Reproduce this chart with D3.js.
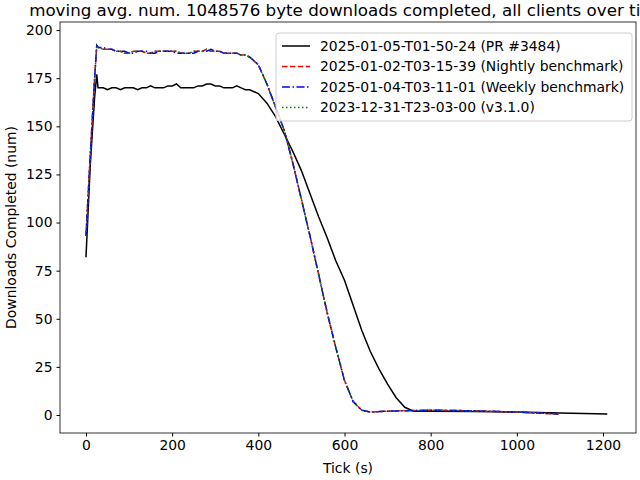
<!DOCTYPE html>
<html>
<head>
<meta charset="utf-8">
<script src="https://cdn.jsdelivr.net/npm/d3@7"></script>
<style>
  body { margin: 0; background: #fff; }
  text { font-family: "DejaVu Sans", sans-serif; }
</style>
</head>
<body>
<div class="chart"></div>
<script>
// Data.
const plateauTicks = d3.range(30, 390, 10);

const prStart = [[0, 82], [10, 130], [20, 165], [25, 177], [28, 170]];
const prPlateau = [170,170,169,170,170,169,170,170,170,169,170,170,171,170,170,170,171,171,172,170,
                   170,170,170,171,171,172,172,171,171,170,170,170,171,170,169,169];
const prTail = [[400, 167], [420, 162], [440, 155], [460, 146], [480, 137], [500, 127], [520, 115],
                [540, 103], [560, 92], [580, 80], [600, 70], [620, 57], [640, 44], [660, 33], [680, 24],
                [700, 16], [720, 9], [740, 4], [760, 2], [800, 2], [900, 1.8], [1000, 1.5], [1100, 1], [1210, 0.5]];

const nightlyStart = [[0, 93], [10, 135], [20, 175], [25, 192], [28, 191]];
const nightlyPlateau = [191,190,190,190,189,189,188,188,189,189,189,188,188,189,189,189,189,189,189,188,
                        188,188,189,189,189,190,189,189,189,188,188,188,188,187,187,186];
const weeklyPlateau = [191,191,190,190,189,189,189,188,188,189,189,189,188,188,189,189,189,189,188,188,
                       188,188,188,189,189,189,190,189,189,188,188,188,188,187,187,186];
const benchTail = [[400, 182], [420, 172], [440, 160], [460, 148], [480, 131], [500, 112], [520, 93],
                   [540, 73], [560, 53], [580, 35], [600, 18], [620, 7], [640, 2.5], [660, 1.5], [700, 2],
                   [800, 2.5], [900, 2.2], [1000, 1.5], [1100, 0.5]];

const seriesNames = [
  '2025-01-05-T01-50-24 (PR #3484)',
  '2025-01-02-T03-15-39 (Nightly benchmark)',
  '2025-01-04-T03-11-01 (Weekly benchmark)',
  '2023-12-31-T23-03-00 (v3.1.0)'
];
const seriesColors = ['#000000', '#ff0000', '#0000ff', '#008000'];
const seriesDash = ['none', '5.5,2.4', '8,2.5,1.5,2.5', '1.5,2.5'];

const xTicks = [0, 200, 400, 600, 800, 1000, 1200];
const yTicks = [0, 25, 50, 75, 100, 125, 150, 175, 200];

function build(start, plateau, tail) {
  return start.concat(plateau.map((v, i) => [plateauTicks[i], v]), tail);
}

const series = [
  build(prStart, prPlateau, prTail),
  build(nightlyStart, nightlyPlateau, benchTail),
  build(nightlyStart, weeklyPlateau, benchTail),
  build(nightlyStart, nightlyPlateau, benchTail)
];

const margin = {top: 22, right: 4, bottom: 47, left: 60};
const width = 640 - margin.left - margin.right;
const height = 480 - margin.top - margin.bottom;

const svg = d3.select('.chart').append('svg')
  .attr('width', 640).attr('height', 480);

const g = svg.append('g').attr('transform', `translate(${margin.left},${margin.top})`);

const x = d3.scaleLinear().domain([-60.3, 1276.6]).range([0, width]);
const y = d3.scaleLinear().domain([-9.35, 204.2]).range([height, 0]);

const xAxis = g.append('g').attr('transform', `translate(0,${height})`)
  .call(d3.axisBottom(x).tickValues(xTicks).tickSize(3.5).tickPadding(4).tickFormat(d3.format('d')));
const yAxis = g.append('g')
  .call(d3.axisLeft(y).tickValues(yTicks).tickSize(3.5).tickPadding(4).tickFormat(d3.format('d')));
[xAxis, yAxis].forEach(a => {
  a.select('.domain').remove();
  a.selectAll('text').attr('font-size', 13.9).attr('fill', '#000');
  a.selectAll('line').attr('stroke', '#000');
});

const line = d3.line().x(d => x(d[0])).y(d => y(d[1]));

series.forEach((s, i) => {
  g.append('path').datum(s)
    .attr('fill', 'none')
    .attr('stroke', seriesColors[i])
    .attr('stroke-width', 1.5)
    .attr('stroke-dasharray', seriesDash[i])
    .attr('d', line);
});

g.append('rect').attr('width', width).attr('height', height)
  .attr('fill', 'none').attr('stroke', '#000').attr('stroke-width', 0.8);

// Legend
const legend = g.append('g').attr('transform', `translate(${276 - margin.left},${33 - margin.top})`);
legend.append('rect').attr('width', 356).attr('height', 88).attr('rx', 3)
  .attr('fill', 'rgba(255,255,255,0.8)').attr('stroke', '#ccc');
seriesNames.forEach((name, i) => {
  const yy = 13 + i * 20.5;
  legend.append('line').attr('x1', 6).attr('x2', 34).attr('y1', yy).attr('y2', yy)
    .attr('stroke', seriesColors[i]).attr('stroke-width', 1.5)
    .attr('stroke-dasharray', seriesDash[i]);
  legend.append('text').attr('x', 44).attr('y', yy).attr('dy', '0.35em')
    .attr('font-size', 13.9).text(name);
});

svg.append('text').attr('x', margin.left + width / 2).attr('y', 16)
  .attr('text-anchor', 'middle').attr('font-size', 16.7)
  .text('moving avg. num. 1048576 byte downloads completed, all clients over time');

svg.append('text').attr('x', margin.left + width / 2).attr('y', 473)
  .attr('text-anchor', 'middle').attr('font-size', 13.9).text('Tick (s)');

svg.append('text').attr('transform', `translate(16,${margin.top + height / 2}) rotate(-90)`)
  .attr('text-anchor', 'middle').attr('font-size', 13.9).text('Downloads Completed (num)');
</script>
</body>
</html>
